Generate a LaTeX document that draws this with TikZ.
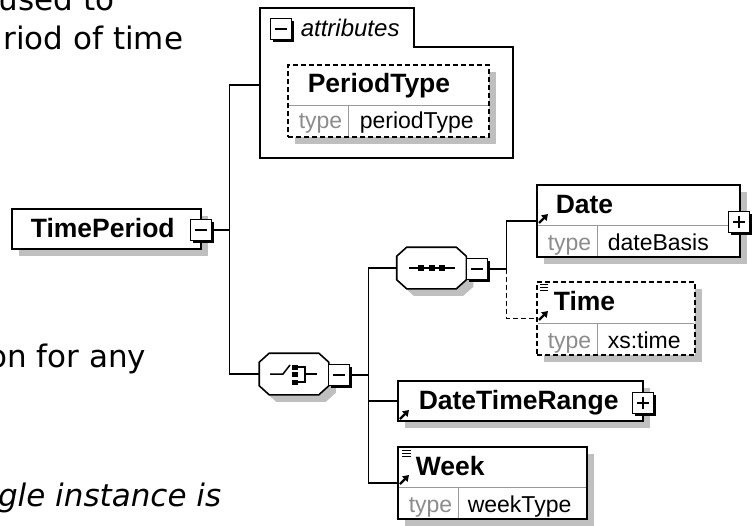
\documentclass[tikz,border=0pt]{standalone}
\usepackage{fontspec}
\setmainfont{Liberation Sans}
\newfontfamily\docfont{DejaVu Sans}
\usetikzlibrary{shadows,arrows.meta}

\begin{document}
\begin{tikzpicture}[x=1pt, y=-1pt, line width=1.6pt,
  elem/.style={draw, fill=white, inner sep=0pt,
    drop shadow={shadow xshift=7pt, shadow yshift=-7pt, fill=black!25, opacity=1}},
  optelem/.style={elem, dash pattern=on 5pt off 3pt},
  grp/.style={inner sep=0pt, minimum width=68pt, minimum height=40pt},
  expander/.style={draw, fill=white, minimum size=21pt, inner sep=0pt, line width=1.8pt,
    drop shadow={shadow xshift=2.5pt, shadow yshift=-2.5pt, fill=black, opacity=1}},
  minusbox/.style={expander, path picture={\draw[line width=1.6pt]
    ([xshift=-6pt]path picture bounding box.center) -- ([xshift=6pt]path picture bounding box.center);}},
  plusbox/.style={expander, path picture={\draw[line width=1.6pt]
    ([xshift=-6pt]path picture bounding box.center) -- ([xshift=6pt]path picture bounding box.center)
    ([yshift=-6pt]path picture bounding box.center) -- ([yshift=6pt]path picture bounding box.center);}},
  ename/.style={anchor=base west, inner sep=0pt, font=\fontsize{26.5}{30}\selectfont\bfseries},
  tlabel/.style={anchor=base west, inner sep=0pt, text=black!45, font=\fontsize{23}{26}\selectfont},
  tvalue/.style={anchor=base west, inner sep=0pt, font=\fontsize{23}{26}\selectfont},
  rowline/.style={black!40, line width=1pt},
  docicon/.style={line width=1pt},
  refarrow/.style={line width=2.2pt, -{Triangle[length=6pt,width=7.5pt]}},
  doctext/.style={anchor=base east, inner sep=0pt, font=\docfont\fontsize{31}{37}\selectfont}]
  \useasboundingbox (0,0) rectangle (752,525);
  \clip (0,0) rectangle (752,525);

  % text of the page behind the diagram
  \node[doctext] (txta) at (115,10) {used to};
  \node[doctext] (txtb) at (184,49) {riod of time};
  \node[doctext] (txtc) at (147,367) {on for any};
  \node[doctext, font=\docfont\itshape\fontsize{31}{37}\selectfont] (txtd) at (222,506) {ngle instance is};

  % root element
  \node[elem, minimum width=189pt, minimum height=40pt] (tp) at (106.5,229) {};
  \node[ename] (tpname) at (30,237) {TimePeriod};
  \node[minusbox] (tpx) at (201,230) {};

  % attributes group
  \draw (260,8) -- (414,8) -- (414,47) -- (513,47) -- (513,158) -- (260,158) -- cycle;
  \coordinate (attr) at (260,85);
  \node[minusbox] (attrx) at (281,29) {};
  \node[anchor=base west, inner sep=0pt, font=\fontsize{24}{28}\selectfont\itshape] (attrname) at (300,36) {attributes};
  \node[optelem, minimum width=201pt, minimum height=72pt] (ptype) at (388.5,101) {};
  \draw[rowline] (289,105) -- (488,105) (348,105) -- (348,136);
  \node[ename] (ptname) at (307,92) {PeriodType};
  \node[tlabel] (ptlabel) at (298,128) {type};
  \node[tvalue] (ptvalue) at (359,128) {periodType};

  % choice and sequence compositors (octagons)
  \node[grp] (choice) at (294,374) {};
  \node[grp] (seq) at (431.5,268) {};
  \foreach \g in {choice,seq} {
    \fill[black!25, transform canvas={shift={(7pt,-7pt)}}]
      ([xshift=10pt]\g.north west) -- ([xshift=-10pt]\g.north east) -- ([yshift=-9pt]\g.north east)
      -- ([yshift=9pt]\g.south east) -- ([xshift=-10pt]\g.south east) -- ([xshift=10pt]\g.south west)
      -- ([yshift=9pt]\g.south west) -- ([yshift=-9pt]\g.north west) -- cycle;
    \draw[fill=white]
      ([xshift=10pt]\g.north west) -- ([xshift=-10pt]\g.north east) -- ([yshift=-9pt]\g.north east)
      -- ([yshift=9pt]\g.south east) -- ([xshift=-10pt]\g.south east) -- ([xshift=10pt]\g.south west)
      -- ([yshift=9pt]\g.south west) -- ([yshift=-9pt]\g.north west) -- cycle;
  }
  % choice icon
  \draw[line width=1.5pt] (270,374) -- (283,374) -- (290,365);
  \foreach \y in {367.5,374.5,382}
    \fill (292,\y-2.5) rectangle (297.5,\y+2.5);
  \draw[line width=1.5pt] (297,367) -- (305,367) -- (305,382) -- (297,382) (305,374) -- (317,374);
  \node[minusbox] (chx) at (339,375) {};
  % sequence icon
  \draw[line width=1.5pt] (409,268) -- (455,268);
  \foreach \x in {421,431.5,442}
    \fill (\x-3,265) rectangle (\x+3,271);
  \node[minusbox] (sqx) at (477,269) {};

  % Date
  \node[elem, minimum width=203pt, minimum height=72pt] (date) at (638.5,221) {};
  \draw[rowline] (538,225) -- (739,225) (597,225) -- (597,256);
  \node[ename] (datename) at (555,213) {Date};
  \node[tlabel] (datelabel) at (547,250) {type};
  \node[tvalue] (datevalue) at (607,250) {dateBasis};
  \draw[refarrow] (539,223) -- (548,214);
  \node[plusbox] (datex) at (739,222) {};

  % Time
  \node[optelem, minimum width=158pt, minimum height=73pt] (time) at (616,318.5) {};
  \draw[rowline] (538,323) -- (694,323) (597,323) -- (597,354);
  \draw[docicon] (540,284) -- (548,284) (540,287) -- (548,287) (540,290) -- (548,290);
  \node[ename] (timename) at (553,310) {Time};
  \node[tlabel] (timelabel) at (547,348) {type};
  \node[tvalue] (timevalue) at (607,348) {xs:time};
  \draw[refarrow] (539,320) -- (548,311);

  % DateTimeRange
  \node[elem, minimum width=245pt, minimum height=40pt] (dtr) at (520.5,401) {};
  \node[ename] (dtrname) at (418,409) {DateTimeRange};
  \draw[refarrow] (400,419) -- (409,410);
  \node[plusbox] (dtrx) at (643,403) {};

  % Week
  \node[elem, minimum width=189pt, minimum height=72pt] (week) at (492.5,483) {};
  \draw[rowline] (399,487) -- (586,487) (458,487) -- (458,518);
  \draw[docicon] (402,450) -- (411,450) (402,453) -- (411,453) (402,456) -- (411,456);
  \node[ename] (weekname) at (415,475) {Week};
  \node[tlabel] (weeklabel) at (408,512) {type};
  \node[tvalue] (weekvalue) at (467,512) {weekType};
  \draw[refarrow] (400,484) -- (409,475);

  % connectors
  \draw (tpx.east) -- ++(17,0) |- (attr);
  \draw (tpx.east) -- ++(17,0) |- (choice.west);
  \draw (chx.east) -- ++(18,0) |- (seq.west);
  \draw (chx.east) -- ++(18,0) |- (dtr.west);
  \draw (chx.east) -- ++(18,0) |- (week.west);
  \draw (sqx.east) -- ++(18,0) |- (date.west);
  \draw[dash pattern=on 5pt off 3pt] (sqx.east) ++(18,0) |- (time.west);
\end{tikzpicture}
\end{document}
